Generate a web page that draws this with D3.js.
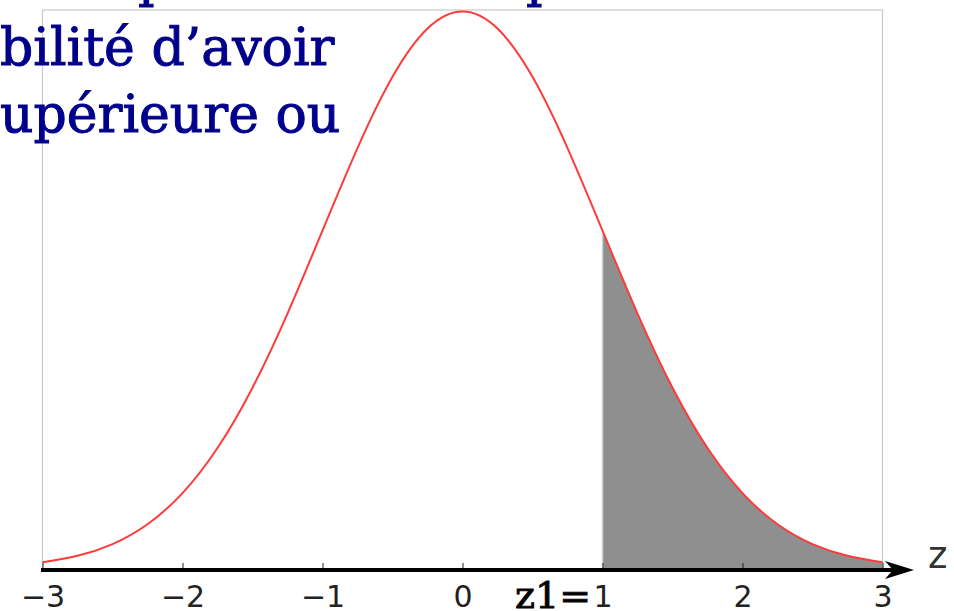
<!DOCTYPE html>
<html>
<head>
<meta charset="utf-8">
<script src="https://cdn.jsdelivr.net/npm/d3@7"></script>
<style>
  body { margin: 0; background: #fff; }
  svg { display: block; }
</style>
</head>
<body>
<svg></svg>
<script>
// values (standard normal density)
const zValues = [-3, -2.75, -2.5, -2.25, -2, -1.75, -1.5, -1.25, -1, -0.75, -0.5, -0.25,
  0, 0.25, 0.5, 0.75, 1, 1.25, 1.5, 1.75, 2, 2.25, 2.5, 2.75, 3];
const density = [0.0044, 0.0091, 0.0175, 0.0317, 0.054, 0.0863, 0.1295, 0.1826, 0.242, 0.3011, 0.3521, 0.3867,
  0.3989, 0.3867, 0.3521, 0.3011, 0.242, 0.1826, 0.1295, 0.0863, 0.054, 0.0317, 0.0175, 0.0091, 0.0044];
const tickValues = [-3, -2, -1, 0, 1, 2, 3];
const shadeFrom = 1;
const titleLines = ["bilité d’avoir", "upérieure ou"];
const axisName = "z";
const criticalLabel = "z1=";

const width = 954;
const height = 611;
const svg = d3.select("svg").attr("width", width).attr("height", height);

const x = d3.scaleLinear().domain([-3, 3]).range([42.5, 882.5]);
const y = d3.scaleLinear().domain([0, 0.3989]).range([568.5, 11.5]);

const points = zValues.map((z, i) => ({ z: z, d: density[i] }));

// plot frame
svg.append("rect")
  .attr("x", x(-3))
  .attr("y", 10)
  .attr("width", x(3) - x(-3))
  .attr("height", 560)
  .attr("fill", "none")
  .attr("stroke", "#c8c8c8")
  .attr("stroke-width", 1.2);

// shaded tail
const area = d3.area()
  .x((d) => x(d.z))
  .y0(y(0))
  .y1((d) => y(d.d))
  .curve(d3.curveNatural);

svg.append("path")
  .datum(points.filter((d) => d.z >= shadeFrom))
  .attr("d", area)
  .attr("fill", "#8f8f8f");

svg.append("line")
  .attr("x1", x(shadeFrom))
  .attr("x2", x(shadeFrom))
  .attr("y1", y(density[zValues.indexOf(shadeFrom)]))
  .attr("y2", y(0))
  .attr("stroke", "#d4d4d4")
  .attr("stroke-width", 1.5);

// density curve
const line = d3.line()
  .x((d) => x(d.z))
  .y((d) => y(d.d))
  .curve(d3.curveNatural);

svg.append("path")
  .datum(points)
  .attr("d", line)
  .attr("fill", "none")
  .attr("stroke", "#ff3a3a")
  .attr("stroke-width", 2);

// AXIS
const axisY = 570;
const xAxis = d3.axisBottom(x).tickValues(tickValues).tickFormat(d3.format("d")).tickSize(-7);
const gx = svg.append("g")
  .attr("transform", "translate(0," + axisY + ")")
  .call(xAxis);
gx.select(".domain").remove();
gx.selectAll(".tick line").attr("stroke", "#222").attr("stroke-width", 1);
gx.selectAll(".tick text")
  .attr("y", 37)
  .attr("dy", 0)
  .attr("fill", "#222")
  .style("font-family", "DejaVu Sans")
  .style("font-size", "30px");

svg.append("line")
  .attr("x1", x(-3) - 1.5)
  .attr("x2", 895)
  .attr("y1", axisY)
  .attr("y2", axisY)
  .attr("stroke", "#000")
  .attr("stroke-width", 4);

svg.append("path")
  .attr("d", "M914,570 L885,561 L893,570 L885,579 Z")
  .attr("fill", "#000");

svg.append("text")
  .attr("x", 928)
  .attr("y", 568)
  .attr("fill", "#333")
  .style("font-family", "DejaVu Sans")
  .style("font-size", "37px")
  .text(axisName);

svg.append("text")
  .attr("x", 515)
  .attr("y", 608)
  .attr("fill", "#000")
  .attr("stroke", "#000")
  .attr("stroke-width", 0.8)
  .attr("textLength", 76)
  .attr("lengthAdjust", "spacingAndGlyphs")
  .style("font-family", "DejaVu Serif")
  .style("font-size", "35px")
  .text(criticalLabel);

// slide text overlay
svg.selectAll(".title")
  .data(titleLines)
  .enter()
  .append("text")
  .attr("class", "title")
  .attr("x", 0)
  .attr("y", (d, i) => 65 + i * 67)
  .attr("fill", "#00008c")
  .attr("stroke", "#00008c")
  .attr("stroke-width", 1)
  .style("font-family", "DejaVu Serif")
  .style("font-size", "52px")
  .text((d) => d);

// descenders of the cut-off line above
[138, 526].forEach((px) => {
  svg.append("text")
    .attr("x", px)
    .attr("y", -4)
    .attr("fill", "#00008c")
    .attr("stroke", "#00008c")
    .attr("stroke-width", 1)
    .style("font-family", "DejaVu Serif")
    .style("font-size", "52px")
    .text("p");
});
</script>
</body>
</html>
